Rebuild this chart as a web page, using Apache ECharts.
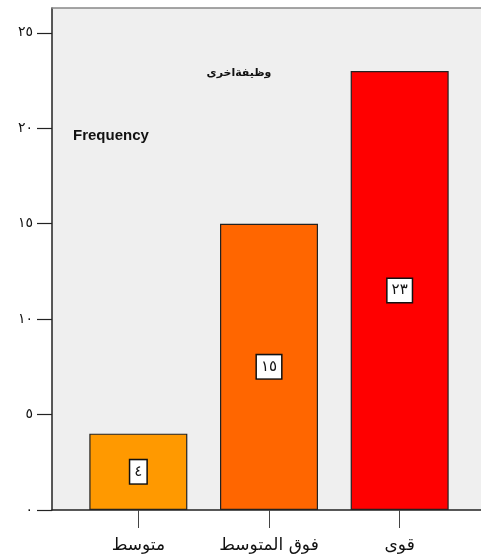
<!DOCTYPE html>
<html>
<head>
<meta charset="utf-8">
<style>
  html, body { margin: 0; padding: 0; background: #ffffff; }
  #chart { width: 481px; height: 554px; }
</style>
<script src="https://cdn.jsdelivr.net/npm/echarts@6/dist/echarts.min.js"></script>
</head>
<body>
<div id="chart"></div>
<script>
// Categories (level), counts and the y-axis tick labels in Arabic-Indic digits
const categories = ['متوسط', 'فوق المتوسط', 'قوى'];
const counts = [4, 15, 23];
const barColors = ['#FF9900', '#FF6600', '#FF0000'];
const tickValues = [0, 5, 10, 15, 20, 25];
const tickLabels = ['٠', '٥', '١٠', '١٥', '٢٠', '٢٥'];
const valueLabels = ['٤', '١٥', '٢٣'];
const yMax = 26.3;

const chart = echarts.init(document.getElementById('chart'), null, { renderer: 'canvas' });

chart.setOption({
  animation: false,
  backgroundColor: '#ffffff',
  grid: [
    // gray plot panel with axes
    { left: 52, right: 0, top: 8, bottom: 44, show: true, backgroundColor: '#efefef', borderWidth: 0 },
    // inner band area holding the bars
    { left: 73, right: 16, top: 8, bottom: 44 }
  ],
  xAxis: [
    {
      gridIndex: 0, type: 'value', min: 0, max: 1, position: 'bottom',
      axisLine: { show: true, lineStyle: { color: '#222', width: 1.5 } },
      axisTick: { show: false }, axisLabel: { show: false }, splitLine: { show: false }
    },
    {
      gridIndex: 0, type: 'value', min: 0, max: 1, position: 'top',
      axisLine: { show: true, lineStyle: { color: '#888', width: 1.5 } },
      axisTick: { show: false }, axisLabel: { show: false }, splitLine: { show: false }
    },
    {
      gridIndex: 1, type: 'category', data: categories, position: 'bottom',
      axisLine: { show: false },
      axisTick: { show: true, alignWithLabel: true, length: 18, lineStyle: { color: '#444', width: 1 } },
      axisLabel: { margin: 27, color: '#111', fontSize: 17, fontFamily: 'DejaVu Sans' },
      splitLine: { show: false }
    }
  ],
  yAxis: [
    {
      gridIndex: 0, type: 'value', min: 0, max: yMax,
      axisLine: { show: true, lineStyle: { color: '#222', width: 1.5 } },
      axisTick: { show: true, inside: false, length: 15, customValues: tickValues,
                  lineStyle: { color: '#222', width: 1.2 } },
      axisLabel: {
        margin: 19, color: '#111', fontSize: 14, fontFamily: 'DejaVu Sans',
        customValues: tickValues,
        formatter: v => tickLabels[tickValues.indexOf(v)] || ''
      },
      splitLine: { show: false }
    },
    {
      gridIndex: 1, type: 'value', min: 0, max: yMax, show: false,
      splitLine: { show: false }
    }
  ],
  series: [
    {
      type: 'bar', xAxisIndex: 2, yAxisIndex: 1,
      barCategoryGap: '25%',
      data: counts.map((v, i) => ({
        value: v,
        itemStyle: { color: barColors[i] },
        label: { formatter: valueLabels[i] }
      })),
      itemStyle: { borderColor: '#222', borderWidth: 1.2 },
      label: {
        show: true, position: 'inside', color: '#111',
        fontSize: 15, fontFamily: 'DejaVu Sans',
        backgroundColor: '#ffffff', borderColor: '#111', borderWidth: 1.5,
        padding: [4, 4, 3, 4], lineHeight: 16
      }
    }
  ],
  graphic: [
    {
      type: 'text', left: 73, top: 128,
      style: { text: 'Frequency', font: 'bold 15px "Liberation Sans", Arial, sans-serif', fill: '#111' }
    },
    {
      type: 'text', x: 239, y: 73,
      style: { text: 'وظيفةاخرى', font: 'bold 11px "DejaVu Sans", sans-serif', fill: '#111',
               textAlign: 'center', textVerticalAlign: 'middle' }
    }
  ]
});
</script>
</body>
</html>
